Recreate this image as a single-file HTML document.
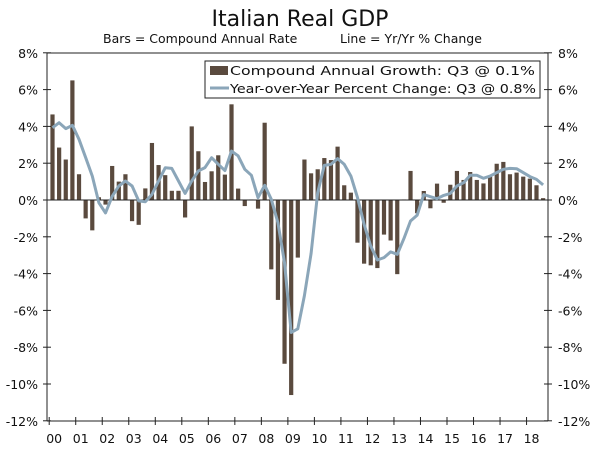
<!DOCTYPE html>
<html><head><meta charset="utf-8"><style>
html,body{margin:0;padding:0;background:#fff;}
svg{display:block;font-family:"DejaVu Sans","Liberation Sans",sans-serif;}
</style></head><body>
<svg id="chart" width="600" height="450" viewBox="0 0 600 450">
<text x="300" y="26" text-anchor="middle" font-size="22" fill="#111">Italian Real GDP</text>
<text x="103" y="43" font-size="12.5" fill="#111">Bars = Compound Annual Rate</text>
<text x="340" y="43" font-size="12.5" fill="#111">Line = Yr/Yr % Change</text>
<g id="bars"></g>
<g id="axes"></g>
<path id="yoy" fill="none" stroke="#8ba6b9" stroke-width="3" stroke-linejoin="round"/>
<g>
<rect x="205" y="61" width="335" height="37" fill="#fff" stroke="#222" stroke-width="1"/>
<rect x="210" y="66" width="18" height="9" fill="#5a4a3e"/>
<text x="230" y="75" font-size="12.5" fill="#111" textLength="305" lengthAdjust="spacingAndGlyphs">Compound Annual Growth: Q3 @ 0.1%</text>
<line x1="210" y1="88" x2="229" y2="88" stroke="#8ba6b9" stroke-width="3"/>
<text x="230" y="93" font-size="12.5" fill="#111" textLength="306" lengthAdjust="spacingAndGlyphs">Year-over-Year Percent Change: Q3 @ 0.8%</text>
</g>
</svg>
<script>
const barValues=[4.65,2.85,2.2,6.5,1.4,-1.0,-1.65,0.15,-0.25,1.85,1.0,1.4,-1.15,-1.35,0.63,3.1,1.9,1.35,0.5,0.5,-0.95,4.0,2.65,0.98,1.56,2.43,1.38,5.2,0.62,-0.33,0.03,-0.47,4.2,-3.77,-5.43,-8.9,-10.6,-3.13,2.2,1.45,1.67,2.28,2.17,2.9,0.8,0.4,-2.32,-3.46,-3.55,-3.7,-1.88,-2.2,-4.03,0.03,1.58,-0.72,0.49,-0.45,0.89,-0.15,0.83,1.58,1.09,1.52,1.09,0.9,1.3,1.97,2.07,1.4,1.49,1.27,1.16,0.8,0.1];
const yoyValues=[3.93,4.2,3.88,4.06,3.3,2.3,1.3,-0.15,-0.7,0.2,0.76,1.03,0.76,-0.05,-0.1,0.3,1.03,1.75,1.72,1.03,0.36,1.03,1.58,1.76,2.3,1.94,1.6,2.66,2.4,1.67,1.34,0.13,0.8,0.04,-1.23,-3.4,-7.2,-7.0,-5.2,-2.9,0.4,1.88,1.94,2.25,1.94,1.3,0.13,-1.32,-2.5,-3.26,-3.13,-2.82,-2.95,-2.1,-1.14,-0.83,0.3,0.18,0.07,0.25,0.36,0.76,0.94,1.34,1.34,1.18,1.3,1.49,1.67,1.72,1.7,1.49,1.27,1.12,0.82];
const yearLabels=["00","01","02","03","04","05","06","07","08","09","10","11","12","13","14","15","16","17","18"];
const yTicks=[8,6,4,2,0,-2,-4,-6,-8,-10,-12];
const NS="http://www.w3.org/2000/svg";
const L=47,R=548,T=53,B=421;
const yS=v=>200-v*18.4;
const xS=i=>52.5+i*6.63;
const bars=document.getElementById('bars'),axes=document.getElementById('axes');
function mk(tag,attrs,parent){const e=document.createElementNS(NS,tag);for(const k in attrs)e.setAttribute(k,attrs[k]);parent.appendChild(e);return e;}
barValues.forEach((v,i)=>{
 const r=mk('rect',{x:xS(i)-2.1,y:Math.min(yS(v),yS(0)),width:4.2,height:Math.abs(yS(v)-yS(0)),fill:'#5a4a3e'},bars);
 
 
});
let d='';yoyValues.forEach((v,i)=>{d+=(i?'L':'M')+xS(i).toFixed(1)+' '+yS(v).toFixed(1);});
document.getElementById('yoy').setAttribute('d',d);
mk('line',{x1:L,y1:T,x2:R,y2:T,stroke:'#222'},axes);
mk('line',{x1:L,y1:T,x2:L,y2:B,stroke:'#222'},axes);
mk('line',{x1:R,y1:T,x2:R,y2:B,stroke:'#222'},axes);
mk('line',{x1:L,y1:B,x2:R,y2:B,stroke:'#222'},axes);
mk('line',{x1:L,y1:yS(0),x2:R,y2:yS(0),stroke:'#222'},axes);
yTicks.forEach(t=>{
 const y=yS(t);
 mk('line',{x1:L-4,y1:y,x2:L+4,y2:y,stroke:'#222'},axes);
 mk('line',{x1:R-4,y1:y,x2:R+4,y2:y,stroke:'#222'},axes);
 const a=mk('text',{x:38,y:y+5,'text-anchor':'end','font-size':12.5,fill:'#111'},axes);a.textContent=t+'%';
 
 
 const b=mk('text',{x:558,y:y+5,'text-anchor':'start','font-size':12.5,fill:'#111'},axes);b.textContent=t+'%';
 
 
});
yearLabels.forEach((lab,k)=>{
 const x=xS(k*4)-3.3;
 mk('line',{x1:x,y1:B-4,x2:x,y2:B+4,stroke:'#222'},axes);
 const t=mk('text',{x:x+5,y:443,'text-anchor':'middle','font-size':12.5,fill:'#111'},axes);t.textContent=lab;
 
 
});
</script>
</body></html>
